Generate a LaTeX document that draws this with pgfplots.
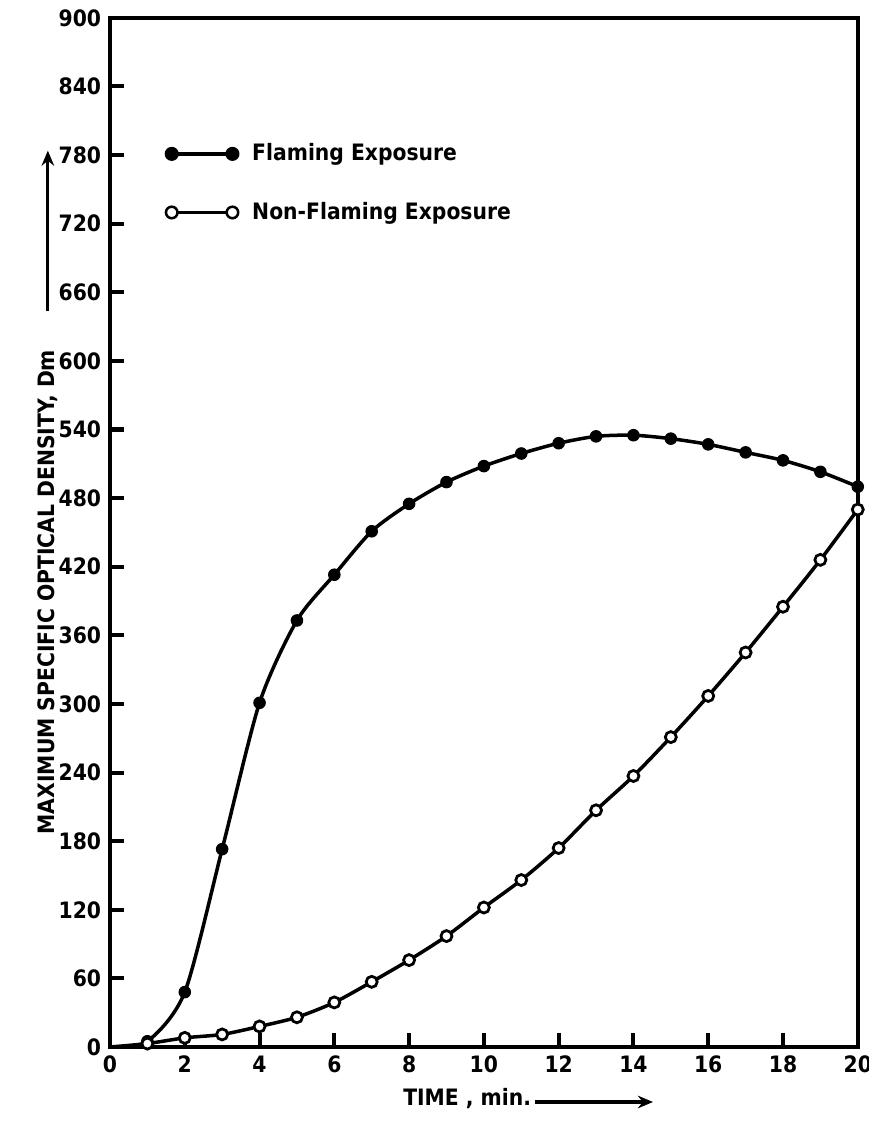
\documentclass[border=0pt]{standalone}
\usepackage{fontspec}
\setmainfont{DejaVu Sans Condensed}
\usepackage{pgfplots}
\pgfplotsset{compat=1.18}
\usetikzlibrary{arrows.meta,calc}

% values, time in min, Dm
\pgfplotstableread{
t   flaming nonflaming
0   0       0
1   5       3
2   48      8
3   173     11
4   301     18
5   373     26
6   413     39
7   451     57
8   475     76
9   494     97
10  508     122
11  519     146
12  528     174
13  534     207
14  535     237
15  532     271
16  527     307
17  520     345
18  513     385
19  503     426
20  490     470
}\dmdata

\begin{document}
\begin{tikzpicture}
\begin{axis}[
    name=ax,
    scale only axis,
    width=10.47cm, height=14.41cm,
    xmin=0, xmax=20, ymin=0, ymax=900,
    xtick={0,2,...,20}, ytick={0,60,...,900},
    xtick pos=left, ytick pos=left,
    xtick align=inside, ytick align=inside,
    major tick length=0.2cm,
    major tick style={line width=1.6pt, draw=black},
    axis line style={line width=1.4pt},
    ticklabel style={font=\small\bfseries},
    /pgf/number format/assume math mode=true,
    clip=false,
    legend style={at={(axis cs:1.45,795)}, anchor=north west, draw=none, fill=none,
        font=\small\bfseries, inner sep=0pt, row sep=11pt},
    legend cell align=left,
]
\addlegendimage{legend image code/.code={
    \draw[line width=1.3pt] (0cm,0cm) -- (0.85cm,0cm);
    \draw[line width=1pt, fill=black] (0cm,0cm) circle (2.3pt) (0.85cm,0cm) circle (2.3pt);
    \path (1.05cm,0cm);}}
\addlegendentry{Flaming Exposure}
\addlegendimage{legend image code/.code={
    \draw[line width=1.3pt] (0cm,0cm) -- (0.85cm,0cm);
    \draw[line width=1pt, fill=white] (0cm,0cm) circle (2.3pt) (0.85cm,0cm) circle (2.3pt);
    \path (1.05cm,0cm);}}
\addlegendentry{Non-Flaming Exposure}

\addplot[line width=1.4pt, smooth, tension=0.45, forget plot] table[x=t, y=flaming]{\dmdata};
\addplot[line width=1.4pt, smooth, tension=0.45, forget plot] table[x=t, y=nonflaming]{\dmdata};
\addplot[only marks, mark=*, mark size=2.3pt, mark options={fill=black}, forget plot,
    skip coords between index={0}{1}] table[x=t, y=flaming]{\dmdata};
\addplot[only marks, mark=*, mark size=2.2pt, mark options={fill=white, line width=1.1pt}, forget plot,
    skip coords between index={0}{1}] table[x=t, y=nonflaming]{\dmdata};
\end{axis}

% axis titles with their arrows
\node[rotate=90, font=\small\bfseries] at ($(ax.south west)+(-0.87cm,6.37cm)$)
    {MAXIMUM SPECIFIC OPTICAL DENSITY, Dm};
\draw[line width=1.2pt, -{Stealth[length=6pt,width=5pt]}] ($(ax.south west)+(-0.87cm,10.3cm)$) -- ++(0,2.25cm);
\node[anchor=west, font=\small\bfseries, inner sep=0pt] (xl) at ($(ax.south west)+(4.1cm,-0.72cm)$) {TIME , min.};
\draw[line width=1.2pt, -{Stealth[length=6pt,width=5pt]}] ($(xl.east)+(0.05cm,-0.05cm)$) -- ++(1.65cm,0);

\pgfresetboundingbox
\path ($(ax.south west)+(-1.54cm,-1.05cm)$) rectangle ($(ax.north east)+(0.154cm,0.25cm)$);
\end{tikzpicture}
\end{document}
